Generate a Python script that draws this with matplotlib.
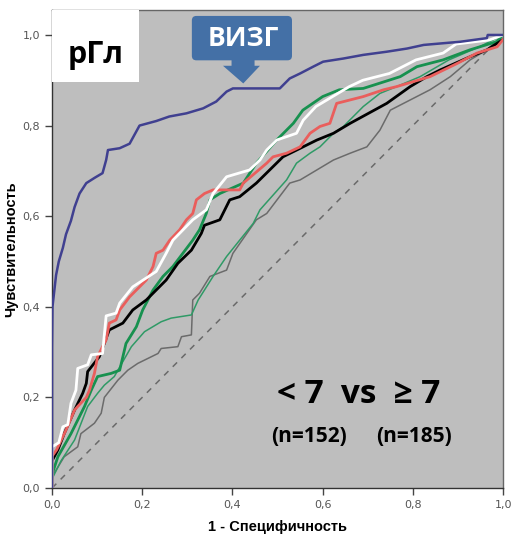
import numpy as np
import matplotlib
matplotlib.use("Agg")
import matplotlib.pyplot as plt
from matplotlib.patches import FancyBboxPatch, Rectangle, Polygon

# ROC curves (x = 1 - specificity, y = sensitivity)
vizg_x = [0, 0, 0.001, 0.009, 0.015, 0.024, 0.031, 0.042, 0.05, 0.061, 0.076, 0.095, 0.112, 0.12, 0.124,
          0.15, 0.172, 0.194, 0.231, 0.26, 0.298, 0.335, 0.364, 0.387, 0.401, 0.505, 0.527, 0.55, 0.579,
          0.601, 0.646, 0.69, 0.742, 0.787, 0.824, 0.905, 0.964, 0.966, 1.0]
vizg_y = [0, 0.31, 0.40, 0.47, 0.50, 0.53, 0.56, 0.59, 0.62, 0.65, 0.673, 0.685, 0.695, 0.724, 0.746,
          0.75, 0.76, 0.80, 0.81, 0.82, 0.827, 0.838, 0.853, 0.875, 0.882, 0.882, 0.904, 0.915, 0.93,
          0.941, 0.948, 0.956, 0.963, 0.97, 0.978, 0.985, 0.993, 1.0, 1.0]

white_x = [0, 0, 0.015, 0.024, 0.035, 0.042, 0.053, 0.057, 0.079, 0.087, 0.112, 0.12, 0.142, 0.15, 0.179,
           0.231, 0.253, 0.268, 0.312, 0.342, 0.357, 0.387, 0.438, 0.461, 0.476, 0.498, 0.542, 0.557,
           0.585, 0.659, 0.689, 0.748, 0.807, 0.867, 0.896, 0.97, 1.0]
white_y = [0, 0.091, 0.10, 0.135, 0.14, 0.187, 0.216, 0.264, 0.272, 0.294, 0.297, 0.38, 0.386, 0.408, 0.444,
           0.478, 0.518, 0.547, 0.592, 0.614, 0.65, 0.687, 0.702, 0.724, 0.746, 0.768, 0.783, 0.812,
           0.842, 0.886, 0.90, 0.915, 0.945, 0.96, 0.98, 0.989, 1.0]

red_x = [0, 0, 0.01, 0.031, 0.05, 0.057, 0.076, 0.083, 0.094, 0.101, 0.112, 0.12, 0.127, 0.142, 0.15, 0.172,
         0.187, 0.209, 0.224, 0.231, 0.246, 0.261, 0.283, 0.298, 0.312, 0.32, 0.338, 0.357, 0.416, 0.424,
         0.476, 0.49, 0.52, 0.55, 0.572, 0.594, 0.616, 0.631, 0.69, 0.735, 0.764, 0.838, 0.898, 0.942,
         0.987, 1.0]
red_y = [0, 0.07, 0.084, 0.128, 0.172, 0.18, 0.2, 0.216, 0.253, 0.29, 0.312, 0.327, 0.364, 0.371, 0.393, 0.422,
         0.437, 0.459, 0.489, 0.518, 0.525, 0.547, 0.57, 0.592, 0.606, 0.636, 0.65, 0.658, 0.658, 0.673,
         0.717, 0.731, 0.739, 0.753, 0.783, 0.798, 0.805, 0.849, 0.864, 0.879, 0.886, 0.908, 0.937, 0.96,
         0.974, 0.99]

black_x = [0, 0, 0.013, 0.027, 0.05, 0.068, 0.076, 0.079, 0.105, 0.127, 0.157, 0.179, 0.209, 0.231, 0.253,
           0.279, 0.309, 0.331, 0.338, 0.372, 0.394, 0.416, 0.453, 0.512, 0.587, 0.624, 0.661, 0.742,
           0.794, 0.831, 0.861, 0.927, 0.964, 1.0]
black_y = [0, 0.06, 0.084, 0.12, 0.172, 0.209, 0.231, 0.257, 0.29, 0.349, 0.364, 0.393, 0.415, 0.437, 0.459,
           0.496, 0.525, 0.562, 0.58, 0.592, 0.636, 0.643, 0.673, 0.731, 0.768, 0.783, 0.805, 0.849,
           0.886, 0.908, 0.923, 0.952, 0.967, 0.99]

green_x = [0, 0, 0.013, 0.042, 0.057, 0.072, 0.087, 0.101, 0.131, 0.15, 0.164, 0.187, 0.201, 0.224, 0.246,
           0.268, 0.29, 0.312, 0.327, 0.342, 0.35, 0.372, 0.424, 0.453, 0.498, 0.52, 0.535, 0.556, 0.6,
           0.637, 0.69, 0.772, 0.809, 0.867, 0.926, 0.985, 1.0]
green_y = [0, 0.03, 0.069, 0.12, 0.15, 0.18, 0.216, 0.246, 0.253, 0.26, 0.319, 0.356, 0.393, 0.437, 0.467,
           0.489, 0.518, 0.547, 0.57, 0.606, 0.636, 0.65, 0.673, 0.717, 0.768, 0.79, 0.805, 0.834, 0.864,
           0.879, 0.882, 0.908, 0.93, 0.945, 0.967, 0.985, 1.0]

green2_x = [0, 0, 0.02, 0.05, 0.079, 0.101, 0.116, 0.138, 0.161, 0.176, 0.205, 0.242, 0.264, 0.309, 0.324,
            0.357, 0.387, 0.416, 0.446, 0.461, 0.52, 0.542, 0.572, 0.594, 0.624, 0.646, 0.69, 0.727, 0.764,
            0.816, 0.88, 0.95, 1.0]
green2_y = [0, 0.02, 0.06, 0.106, 0.18, 0.209, 0.227, 0.246, 0.286, 0.312, 0.345, 0.367, 0.375, 0.382, 0.415,
            0.467, 0.511, 0.547, 0.584, 0.614, 0.68, 0.717, 0.739, 0.753, 0.783, 0.798, 0.842, 0.871, 0.886,
            0.908, 0.945, 0.975, 1.0]

gray_x = [0, 0, 0.027, 0.057, 0.064, 0.094, 0.109, 0.116, 0.146, 0.168, 0.19, 0.235, 0.242, 0.279, 0.287,
          0.309, 0.312, 0.327, 0.35, 0.387, 0.401, 0.453, 0.476, 0.527, 0.55, 0.587, 0.624, 0.661, 0.698,
          0.727, 0.75, 0.838, 0.883, 0.927, 0.964, 1.0]
gray_y = [0, 0.025, 0.069, 0.091, 0.12, 0.143, 0.165, 0.2, 0.238, 0.26, 0.275, 0.297, 0.308, 0.312, 0.334,
          0.338, 0.415, 0.43, 0.467, 0.481, 0.518, 0.592, 0.606, 0.673, 0.68, 0.702, 0.724, 0.739, 0.753,
          0.79, 0.834, 0.879, 0.908, 0.945, 0.967, 1.0]

ticks = [0, 0.2, 0.4, 0.6, 0.8, 1.0]
tick_labels = ["0,0", "0,2", "0,4", "0,6", "0,8", "1,0"]

fig = plt.figure(figsize=(5.12, 5.34), dpi=100)
ax = fig.add_axes([0.1016, 0.0861, 0.881, 0.8951])
ax.set_facecolor("#bebebe")

# roc curves, drawn as jagged lines through the read points
ax.plot([0, 1], [0, 1], color="#6a6a6a", lw=1.1, ls=(0, (4, 4)), zorder=2)
ax.plot(gray_x, gray_y, color="#6b6b6b", lw=1.1, zorder=3)
ax.plot(green2_x, green2_y, color="#2f9a66", lw=1.1, zorder=3)
ax.plot(green_x, green_y, color="#17914f", lw=2.0, zorder=4)
ax.plot(black_x, black_y, color="#000000", lw=2.0, zorder=4)
ax.plot(red_x, red_y, color="#ea5e5c", lw=2.0, zorder=5)
ax.plot(white_x, white_y, color="#ffffff", lw=2.0, zorder=6)
ax.plot(vizg_x, vizg_y, color="#404090", lw=1.8, zorder=6)

ax.set_xlim(0, 1.0)
ax.set_ylim(0, 1.055)
ax.set_xticks(ticks)
ax.set_xticklabels(tick_labels)
ax.set_yticks(ticks)
ax.set_yticklabels(tick_labels)
ax.tick_params(direction="out", length=5, width=1, color="#444444",
               labelsize=8, labelcolor="#555555")
for s in ax.spines.values():
    s.set_color("#666666")
    s.set_linewidth(1)
ax.spines["left"].set_color("#333333")
ax.spines["bottom"].set_color("#333333")

ax.set_xlabel("1 - Специфичность", fontsize=10.5, fontweight="bold",
              family="Liberation Sans", labelpad=7)
ax.set_ylabel("Чувствительность", fontsize=10.5, fontweight="bold",
              family="Liberation Sans", labelpad=3)

# label box top-left
ax.add_patch(Rectangle((0, 0.896), 0.192, 0.2, facecolor="white", edgecolor="none",
                       zorder=7, clip_on=True))
ax.text(0.096, 0.955, "рГл", fontsize=22, fontweight="bold", family="Open Sans",
        ha="center", va="center", zorder=8)

# callout
ax.add_patch(FancyBboxPatch((0.316, 0.950), 0.21, 0.086,
                            boxstyle="round,pad=0.006,rounding_size=0.01",
                            facecolor="#4470a6", edgecolor="none", zorder=7))
arrow = [(0.398, 0.945), (0.449, 0.945), (0.449, 0.932), (0.461, 0.932),
         (0.424, 0.893), (0.379, 0.932), (0.398, 0.932)]
ax.add_patch(Polygon(arrow, closed=True, facecolor="#4470a6", edgecolor="none", zorder=7))
ax.text(0.423, 0.993, "ВИЗГ", fontsize=19, fontweight="bold", family="Open Sans",
        color="white", ha="center", va="center", zorder=8)

ax.text(0.679, 0.207, "< 7  vs  ≥ 7", fontsize=24, fontweight="bold",
        family=["Open Sans", "DejaVu Sans"], ha="center", va="center", zorder=8)
ax.text(0.57, 0.113, "(n=152)", fontsize=15, fontweight="bold", family="Open Sans",
        ha="center", va="center", zorder=8)
ax.text(0.803, 0.113, "(n=185)", fontsize=15, fontweight="bold", family="Open Sans",
        ha="center", va="center", zorder=8)

fig.savefig("out.png", dpi=100, facecolor="white")
